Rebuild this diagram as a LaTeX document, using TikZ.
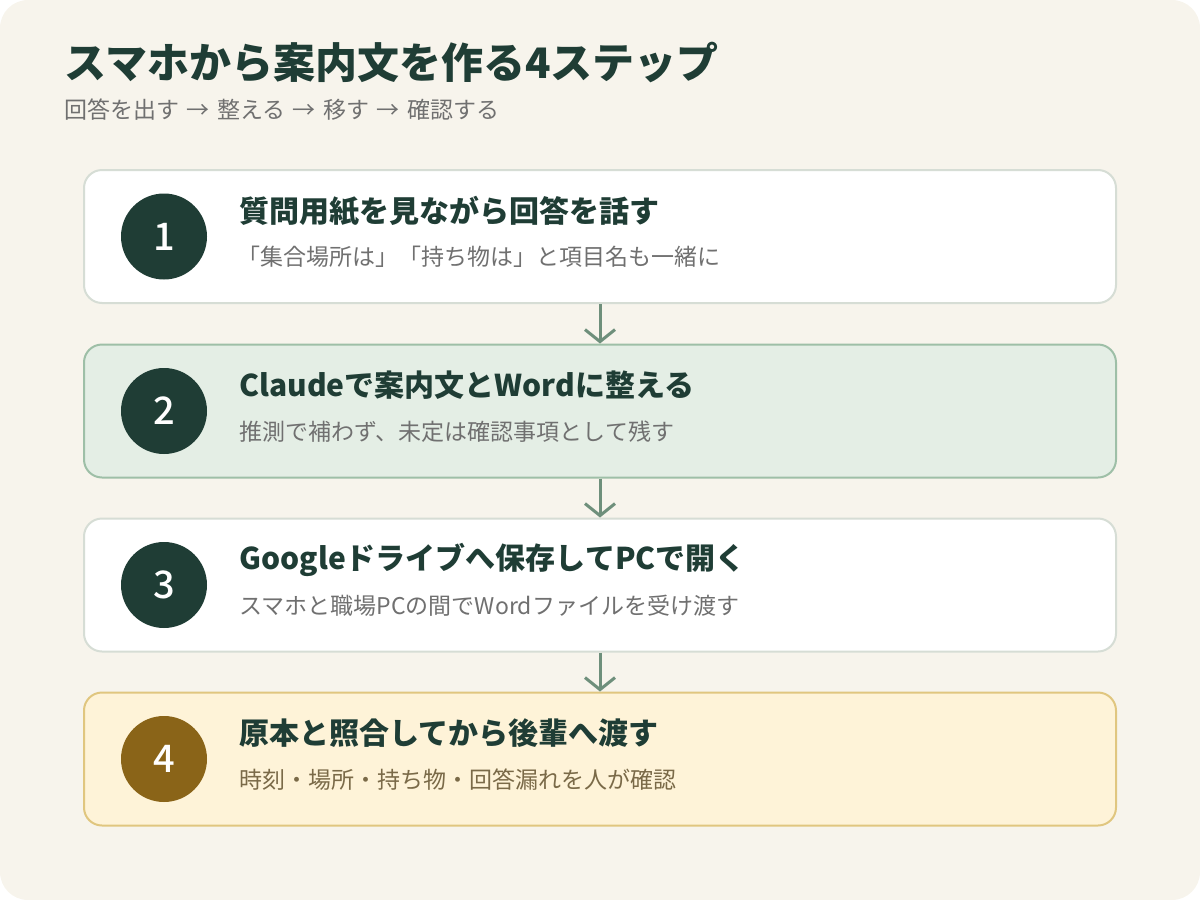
\documentclass[tikz,border=0pt]{standalone}
\usepackage{fontspec}
\setmainfont{Noto Sans CJK JP}
\newfontfamily\numfont{Noto Sans CJK JP Medium}
\usetikzlibrary{arrows.meta}

\definecolor{bgcream}{HTML}{F7F4EC}
\definecolor{deepgreen}{HTML}{1F3D35}
\definecolor{textgray}{HTML}{707070}
\definecolor{linegray}{HTML}{D6DDD5}
\definecolor{mintfill}{HTML}{E4EEE5}
\definecolor{mintline}{HTML}{9EBFA7}
\definecolor{creamfill}{HTML}{FEF3D8}
\definecolor{goldline}{HTML}{E0C67F}
\definecolor{ochre}{HTML}{8A6418}
\definecolor{brownish}{HTML}{7A6A48}
\definecolor{arrowgreen}{HTML}{6E8F7B}

\newcommand{\stepto}{\hspace{3.7pt}→\hspace{3.7pt}}

\tikzset{
  stepbox/.style={rectangle, rounded corners=9pt, line width=1pt,
    minimum width=516pt, minimum height=66.5pt, inner sep=0pt},
  numdot/.style={circle, minimum size=43pt, inner sep=0pt, text=white,
    font=\numfont\fontsize{19pt}{22pt}\selectfont},
  steptitle/.style={anchor=west, inner sep=0pt, text=deepgreen,
    font=\fontsize{15pt}{18pt}\selectfont\bfseries},
  stepnote/.style={anchor=west, inner sep=0pt, text=textgray,
    font=\fontsize{11.5pt}{14pt}\selectfont},
  flowarrow/.style={draw=arrowgreen, line width=1.5pt,
    -{Straight Barb[length=6pt, width=15pt]}}
}

\begin{document}
\begin{tikzpicture}[x=0.5pt, y=-0.5pt]
  \useasboundingbox (0,0) rectangle (1200,900);
  \fill[bgcream, rounded corners=14pt] (0,0) rectangle (1200,900);

  \node[anchor=west, inner sep=0pt, text=deepgreen,
    font=\fontsize{21pt}{25pt}\selectfont\bfseries] (title) at (64,62)
    {スマホから案内文を作る4ステップ};
  \node[anchor=west, inner sep=0pt, text=textgray,
    font=\fontsize{11.5pt}{14pt}\selectfont] (subtitle) at (64,110)
    {回答を出す\stepto 整える\stepto 移す\stepto 確認する};

  \foreach \i/\yc/\fillc/\linec/\numc in {1/236.5/white/linegray/deepgreen,
      2/411/mintfill/mintline/deepgreen, 3/585/white/linegray/deepgreen,
      4/759/creamfill/goldline/ochre} {
    \node[stepbox, fill=\fillc, draw=\linec] (box\i) at (600,\yc) {};
    \node[numdot, fill=\numc] (num\i) at (164,\yc) {\i};
  }

  \node[steptitle] (head1) at (239,211) {質問用紙を見ながら回答を話す};
  \node[stepnote] (note1) at (237,257) {「集合場所は」「持ち物は」と項目名も一緒に};
  \node[steptitle] (head2) at (239,385.5) {Claudeで案内文とWordに整える};
  \node[stepnote] (note2) at (239,431.5) {推測で補わず、未定は確認事項として残す};
  \node[steptitle] (head3) at (239,559.5) {Googleドライブへ保存してPCで開く};
  \node[stepnote] (note3) at (239,605.5) {スマホと職場PCの間でWordファイルを受け渡す};
  \node[steptitle] (head4) at (239,733.5) {原本と照合してから後輩へ渡す};
  \node[stepnote, text=brownish] (note4) at (239,779.5) {時刻・場所・持ち物・回答漏れを人が確認};

  \foreach \i/\j in {1/2, 2/3, 3/4}
    \draw[flowarrow] (box\i.south) -- (box\j.north);
\end{tikzpicture}
\end{document}
